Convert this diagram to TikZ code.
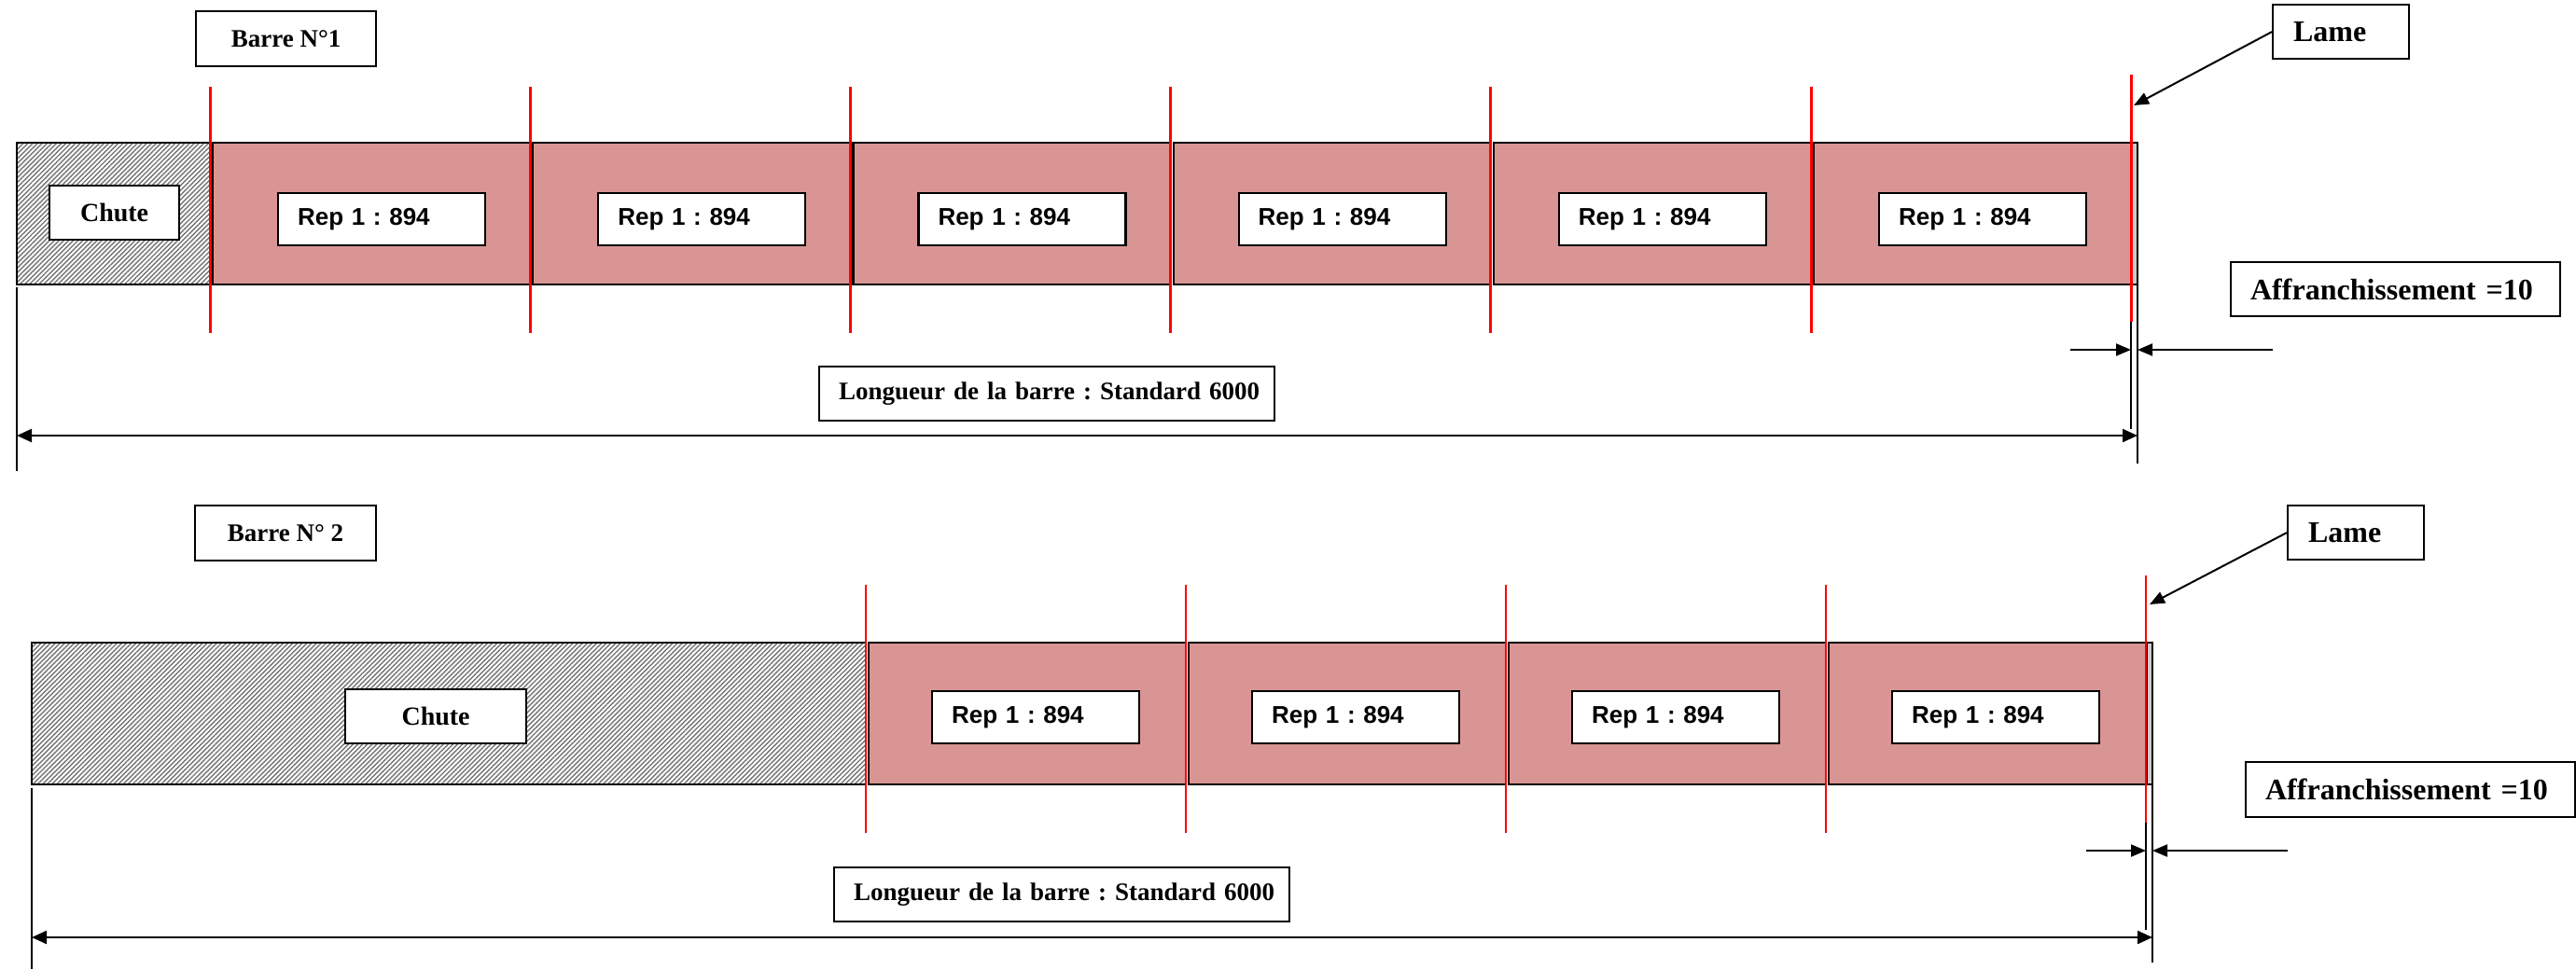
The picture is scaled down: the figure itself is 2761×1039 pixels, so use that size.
\documentclass[tikz,border=0pt]{standalone}
\usepackage{fontspec}
\setmainfont{Liberation Serif}
\newfontfamily\arialfont{Liberation Sans}
\usetikzlibrary{arrows.meta,patterns.meta}
\definecolor{piececol}{RGB}{217,149,148}
\frenchspacing
\begin{document}
\begin{tikzpicture}[x=1pt,y=-1pt,
  box/.style={draw=black,line width=2.2pt,fill=white,anchor=north west,inner ysep=0pt},
  cbox/.style={box,inner xsep=0pt,align=center},
  lbox/.style={box,align=left,inner xsep=0pt},
  tfont/.style={font=\frenchspacing\bfseries\fontsize{#1}{#1}\selectfont},
  repbox/.style={box,align=left,inner xsep=0pt,text width=222pt,minimum height=56pt,
    font=\frenchspacing\arialfont\bfseries\fontsize{26}{28}\selectfont},
  piece/.style={draw=black,line width=2.2pt,fill=piececol},
  hatch/.style={draw=black,line width=2.2pt,pattern={Lines[angle=45,distance=3.6pt,line width=1.4pt]},pattern color=black!55},
  strip/.style={draw=black,line width=1.5pt,fill=black!20},
  cut/.style={red,line width=#1},
  ext/.style={line width=1.6pt},
  tip/.style={-{Triangle[length=16pt,width=13pt]},line width=2pt},
  dim/.style={{Triangle[length=16pt,width=14pt]}-{Triangle[length=16pt,width=14pt]},line width=2.2pt}
]
\useasboundingbox (0,0) rectangle (2761,1039);
\fill[white] (0,0) rectangle (2761,1039);

% ================= Barre 1 =================
\node[cbox,tfont=27,minimum width=193pt,minimum height=59pt] (barre1) at (209,11) {Barre N°1};
\node[lbox,tfont=32,text width=146pt,minimum height=58pt] (lame1) at (2435,4) {\hspace*{22pt}Lame};

\draw[hatch] (18,153) rectangle (225,305);
\foreach \i in {0,...,5}{
  \pgfmathsetmacro{\xl}{225+343.2*\i+3}
  \pgfmathsetmacro{\xr}{225+343.2*(\i+1)}
  \draw[piece] (\xl,153) rectangle (\xr,305);
}
\draw[strip] (2285,153) rectangle (2291,305);

\node[cbox,tfont=28,minimum width=139pt,minimum height=58pt] (chute1) at (52,198) {Chute};
\foreach \i in {0,...,5}{
  \node[repbox] (rep1\i) at ({225+343.2*\i+72},206) {\hspace*{21pt}Rep 1 : 894};
}

\foreach \i in {0,...,5}{
  \draw[cut=3pt] ({225+343.2*\i},93) -- ({225+343.2*\i},357);
}
\draw[cut=3pt] (2284,80) -- (2284,345);

\coordinate (lame1tip) at (2287,113);
\draw[tip] (lame1.west) -- (lame1tip);

\node[lbox,tfont=32,text width=353pt,minimum height=58pt] (aff1) at (2390,280) {\hspace*{21pt}Affranchissement =10};

\draw[ext] (2284,345) -- (2284,460);
\draw[ext] (2291,300) -- (2291,497);
\draw[ext] (18,308) -- (18,505);

\coordinate (a1l) at (2219,375);
\coordinate (a1lt) at (2284,375);
\coordinate (a1r) at (2436,375);
\coordinate (a1rt) at (2291,375);
\draw[tip] (a1l) -- (a1lt);
\draw[tip] (a1r) -- (a1rt);

\node[lbox,tfont=27,text width=488pt,minimum height=58pt] (long1) at (877,392) {\hspace*{21pt}Longueur de la barre : Standard 6000};
\coordinate (d1l) at (18,467);
\coordinate (d1r) at (2291,467);
\draw[dim] (d1l) -- (d1r);

% ================= Barre 2 =================
\node[cbox,tfont=27,minimum width=194pt,minimum height=59pt] (barre2) at (208,541) {Barre N° 2};
\node[lbox,tfont=32,text width=146pt,minimum height=58pt] (lame2) at (2451,541) {\hspace*{22pt}Lame};

\draw[hatch] (34,689) rectangle (928,841);
\foreach \i in {0,...,3}{
  \pgfmathsetmacro{\xl}{928+343*\i+3}
  \pgfmathsetmacro{\xr}{928+343*(\i+1)}
  \draw[piece] (\xl,689) rectangle (\xr,841);
}
\draw[strip] (2301,689) rectangle (2307,841);

\node[cbox,tfont=28,minimum width=194pt,minimum height=58pt] (chute2) at (369,738) {Chute};
\foreach \i in {0,...,3}{
  \node[repbox] (rep2\i) at ({928+343*\i+70},740) {\hspace*{21pt}Rep 1 : 894};
}

\foreach \i in {0,...,3}{
  \draw[cut=2.4pt] ({928+343*\i},627) -- ({928+343*\i},893);
}
\draw[cut=2.4pt] (2300,617) -- (2300,882);

\coordinate (lame2tip) at (2304,648);
\draw[tip] (lame2.west) -- (lame2tip);

\node[lbox,tfont=32,text width=353pt,minimum height=59pt] (aff2) at (2406,816) {\hspace*{21pt}Affranchissement =10};

\draw[ext] (2300,882) -- (2300,997);
\draw[ext] (2307,840) -- (2307,1032);
\draw[ext] (34,845) -- (34,1039);

\coordinate (a2l) at (2236,912);
\coordinate (a2lt) at (2300,912);
\coordinate (a2r) at (2452,912);
\coordinate (a2rt) at (2307,912);
\draw[tip] (a2l) -- (a2lt);
\draw[tip] (a2r) -- (a2rt);

\node[lbox,tfont=27,text width=488pt,minimum height=58pt] (long2) at (893,929) {\hspace*{21pt}Longueur de la barre : Standard 6000};
\coordinate (d2l) at (34,1005);
\coordinate (d2r) at (2307,1005);
\draw[dim] (d2l) -- (d2r);
\end{tikzpicture}
\end{document}
